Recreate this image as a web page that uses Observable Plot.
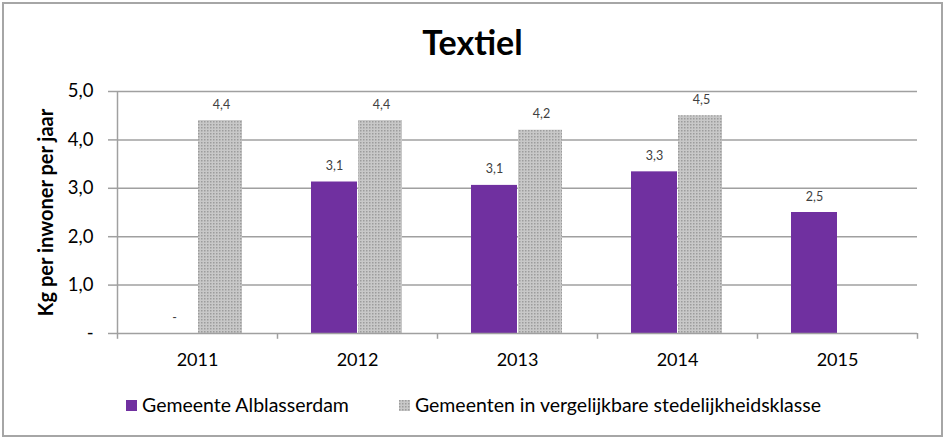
<!DOCTYPE html>
<html><head><meta charset="utf-8">
<script src="https://cdn.jsdelivr.net/npm/d3@7"></script>
<script src="https://cdn.jsdelivr.net/npm/@observablehq/plot@0.6"></script>
<style>
body{margin:0;background:#fff;}
#wrap{position:relative;width:945px;height:439px;overflow:hidden;font-family:Lato,"Open Sans",sans-serif;background:#fff;}
#frame{position:absolute;left:2px;top:2px;width:937px;height:431px;border:2px solid #a6a6a6;}
#title{position:absolute;left:0;width:945px;top:22px;text-align:center;font-weight:bold;font-size:34px;line-height:40px;color:#000;}
#chart{position:absolute;left:0;top:70px;}
#legend{position:absolute;top:393px;left:126px;font-size:19.5px;line-height:24px;display:flex;align-items:center;color:#000;}
#legend .item{display:flex;align-items:center;}
#legend .sw{width:11px;height:11px;margin-right:5px;}
</style>
</head><body>
<div id="wrap">
  <div id="frame"></div>
  <div id="title">Textiel</div>
  <div id="chart"></div>
  <div id="legend"></div>
</div>
<script>
const years = ["2011", "2012", "2013", "2014", "2015"];
const alblasserdam = [0, 3.13, 3.06, 3.34, 2.5];
const vergelijkbaar = [4.4, 4.4, 4.2, 4.5, null];
const seriesNames = ["Gemeente Alblasserdam", "Gemeenten in vergelijkbare stedelijkheidsklasse"];
const yTicks = [0, 1, 2, 3, 4, 5];
const yTitle = "Kg per inwoner per jaar";

const purple = "#7030a0";
const fmt = v => v === 0 ? "-" : v.toFixed(1).replace(".", ",");

const dataA = years.map((year, i) => ({year, value: alblasserdam[i]}));
const dataB = years.map((year, i) => ({year, value: vergelijkbaar[i]})).filter(d => d.value != null);

const chart = Plot.plot({
  width: 945,
  height: 300,
  marginTop: 21,
  marginBottom: 37,
  marginLeft: 117,
  marginRight: 28,
  style: {fontFamily: "Lato, 'Open Sans', sans-serif", background: "transparent", color: "#000"},
  x: {domain: years, paddingInner: 0, paddingOuter: 0},
  y: {domain: [0, 5]},
  marks: [
    Plot.ruleY(yTicks.filter(d => d > 0), {stroke: "#a0a0a0", strokeWidth: 1.5}),
    Plot.barY(dataA, {x: "year", y: "value", fill: purple, insetLeft: 34, insetRight: 80}),
    Plot.barY(dataB, {x: "year", y: "value", fill: "url(#dots)", insetLeft: 81, insetRight: 35}),
    Plot.ruleY([0], {stroke: "#a0a0a0", strokeWidth: 1.5}),
    Plot.ruleX([years[0]], {dx: -80, stroke: "#a0a0a0", strokeWidth: 1.5}),
    Plot.ruleX(years, {dx: -80, y1: 0, y2: -0.12, stroke: "#a0a0a0", strokeWidth: 1.5}),
    Plot.ruleX([years[years.length - 1]], {dx: 80, y1: 0, y2: -0.12, stroke: "#a0a0a0", strokeWidth: 1.5}),
    Plot.text(dataA, {x: "year", y: "value", text: d => fmt(d.value), dx: -23, dy: -16, fontSize: 12.5, fill: "#404040"}),
    Plot.text(dataB, {x: "year", y: "value", text: d => fmt(d.value), dx: 24, dy: -16, fontSize: 12.5, fill: "#404040"}),
    Plot.axisY({ticks: yTicks, tickFormat: fmt, tickSize: 9, tickPadding: 15, fontSize: 18.5, stroke: "#a0a0a0", strokeWidth: 1.5, label: null}),
    Plot.axisX({tickSize: 0, tickPadding: 20, fontSize: 18, label: null}),
    Plot.text([yTitle], {frameAnchor: "left", dx: -71, rotate: -90, text: d => d, fontSize: 20, fontWeight: "bold", textAnchor: "middle", fill: "#000"})
  ]
});

// dotted pattern for the comparison series
const ns = "http://www.w3.org/2000/svg";
const defs = document.createElementNS(ns, "defs");
const pat = document.createElementNS(ns, "pattern");
pat.setAttribute("id", "dots");
pat.setAttribute("width", "3");
pat.setAttribute("height", "3");
pat.setAttribute("patternUnits", "userSpaceOnUse");
const bg = document.createElementNS(ns, "rect");
bg.setAttribute("width", 3); bg.setAttribute("height", 3); bg.setAttribute("fill", "#c8c8c8");
pat.appendChild(bg);
const dot = document.createElementNS(ns, "rect");
dot.setAttribute("width", 1.5); dot.setAttribute("height", 1.5); dot.setAttribute("fill", "#9c9c9c");
pat.appendChild(dot);
defs.appendChild(pat);
chart.insertBefore(defs, chart.firstChild);
document.getElementById("chart").appendChild(chart);

// legend
const legend = document.getElementById("legend");
seriesNames.forEach((name, i) => {
  const item = document.createElement("div");
  item.className = "item";
  if (i > 0) item.style.marginLeft = "50px";
  const sw = document.createElementNS(ns, "svg");
  sw.setAttribute("width", 11); sw.setAttribute("height", 11);
  sw.setAttribute("class", "sw");
  const r = document.createElementNS(ns, "rect");
  r.setAttribute("width", 11); r.setAttribute("height", 11);
  r.setAttribute("fill", i === 0 ? purple : "url(#dots)");
  sw.appendChild(r);
  const t = document.createElement("span");
  t.textContent = name;
  item.appendChild(sw);
  item.appendChild(t);
  legend.appendChild(item);
});
</script>
</body></html>
